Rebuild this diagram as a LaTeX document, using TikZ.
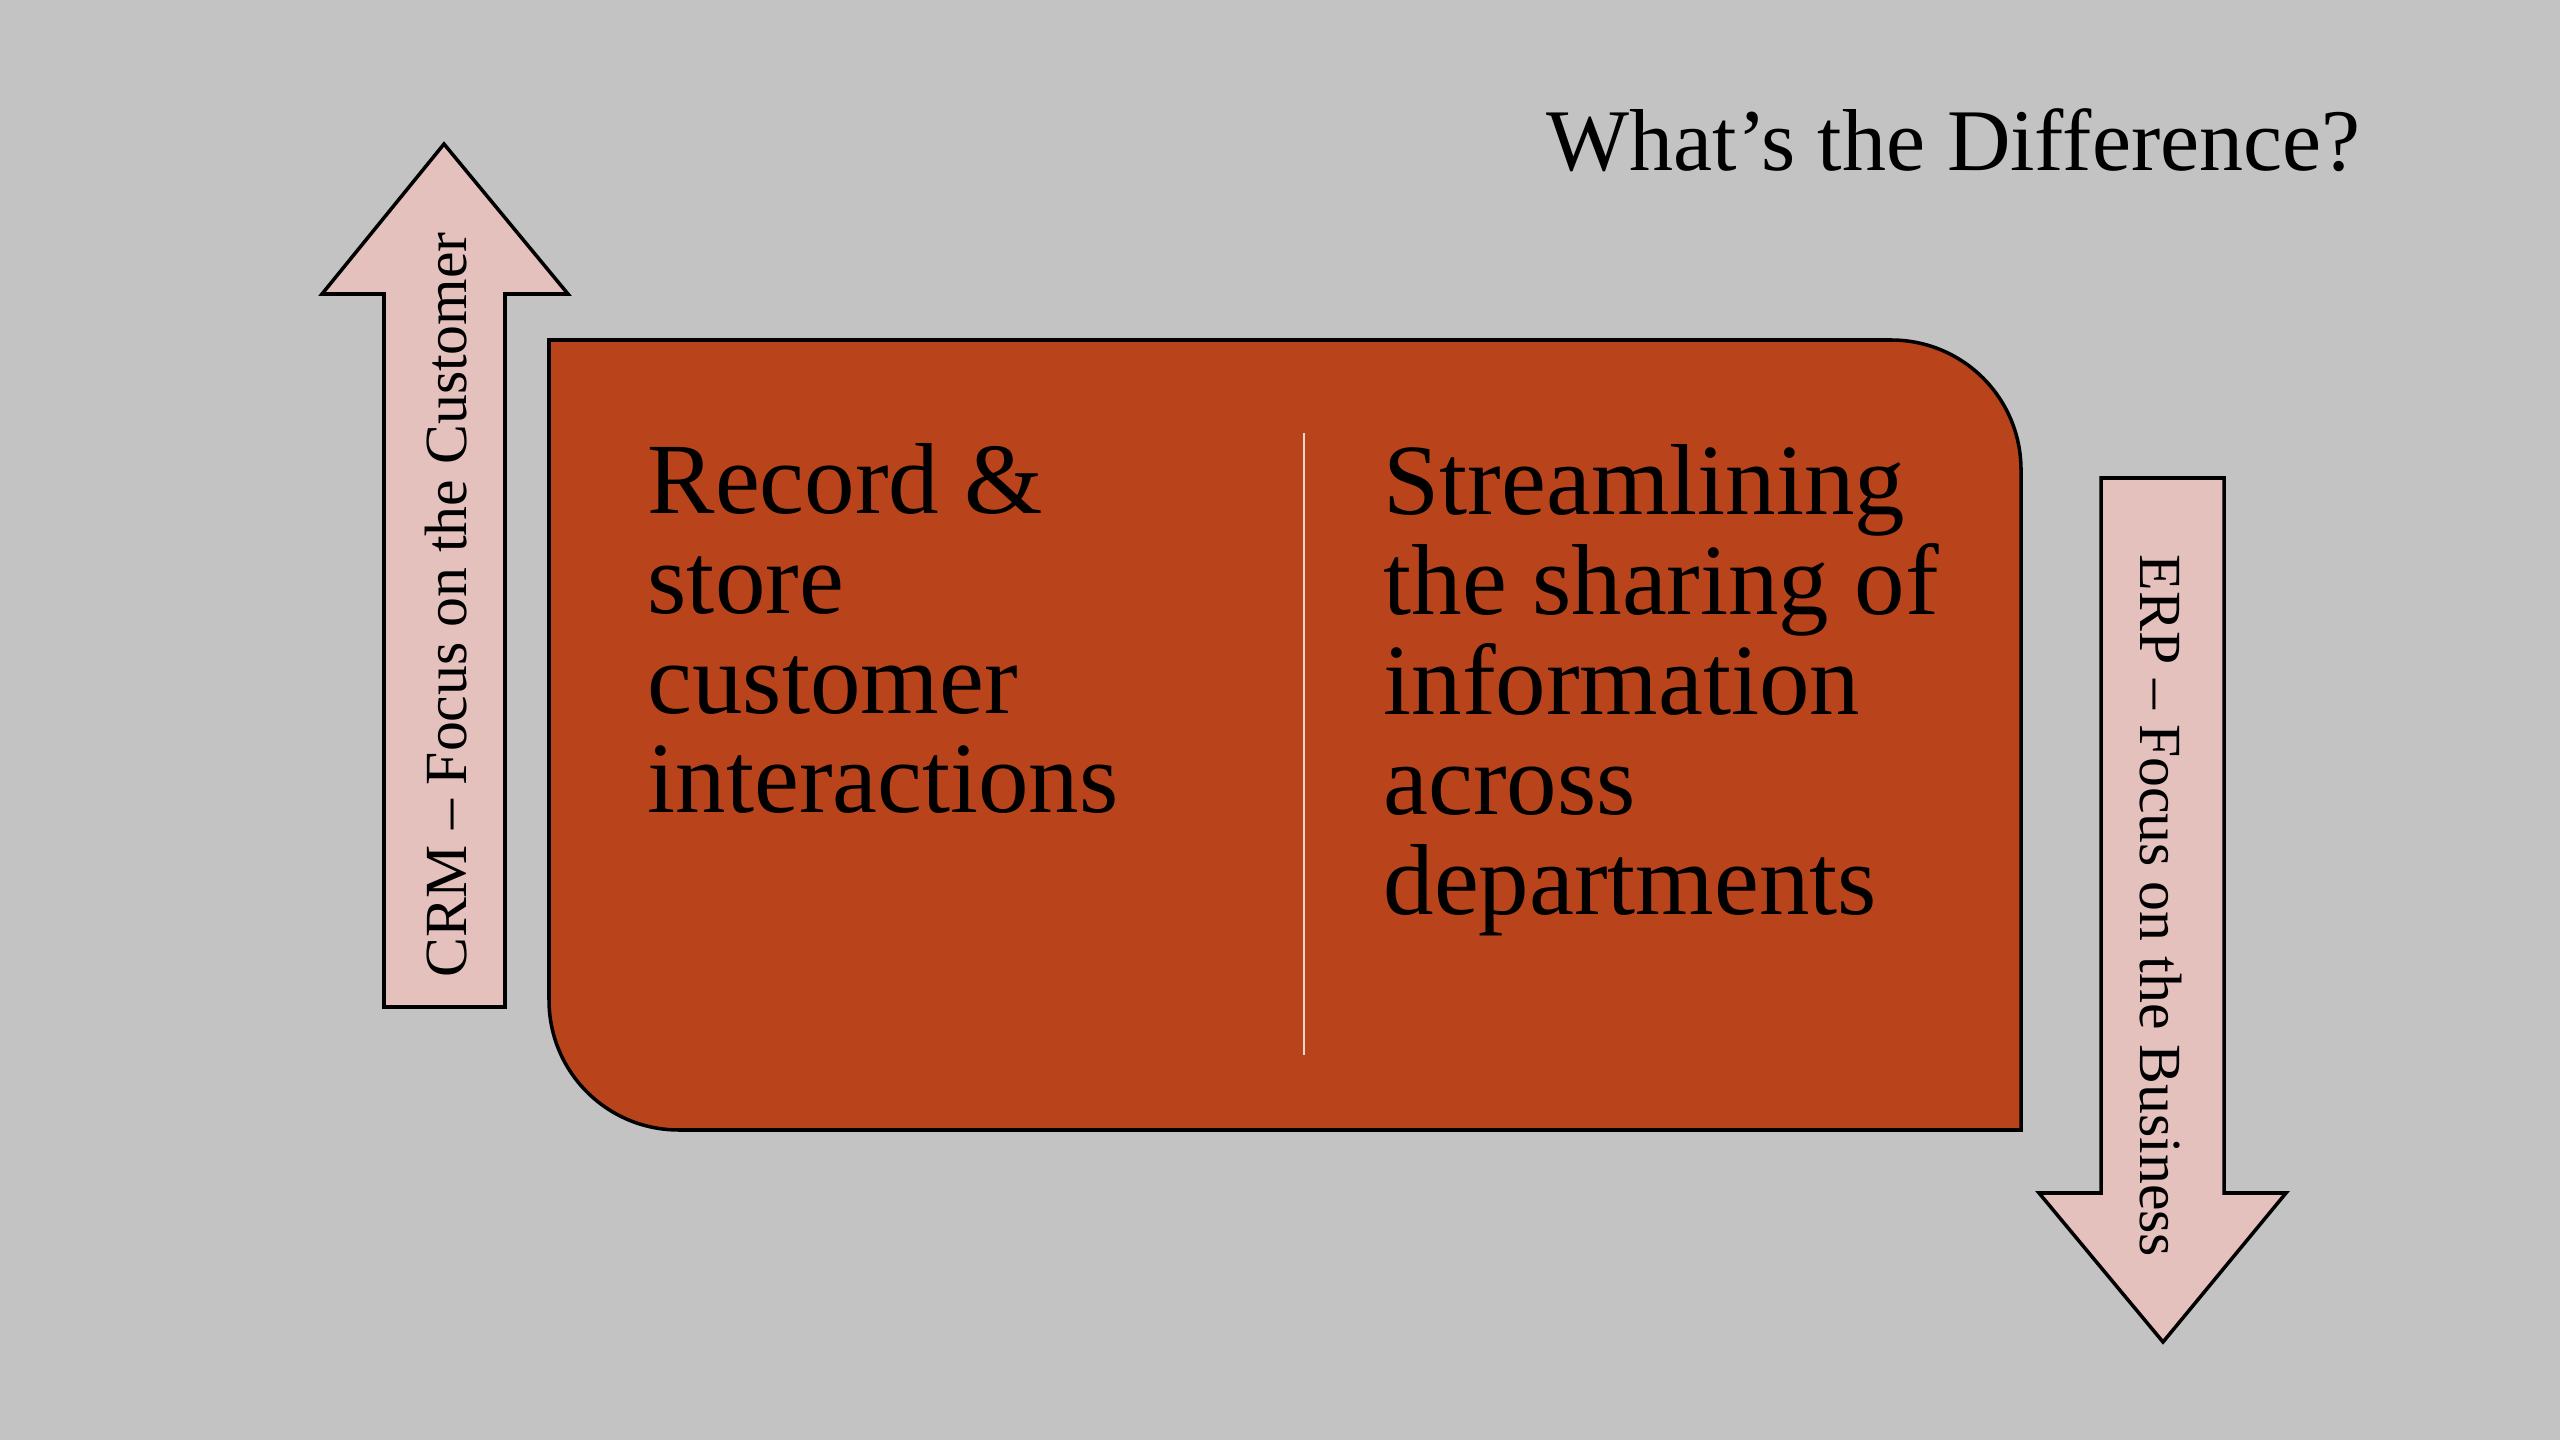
\documentclass[tikz,border=0pt]{standalone}
\usepackage{fontspec}
\setmainfont{Liberation Serif}
\usepackage{tikz}
\definecolor{bggray}{HTML}{C3C3C3}
\definecolor{rustbox}{HTML}{B9441C}
\definecolor{pinkarrow}{HTML}{E5C1BE}
\definecolor{divline}{HTML}{F0D5CC}
\begin{document}
\begin{tikzpicture}[x=0.01cm,y=-0.01cm]
		\fill[bggray] (0,0) rectangle (2560,1440);
		\useasboundingbox (0,0) rectangle (2560,1440);
		\draw[fill=pinkarrow,line width=1pt,line join=miter] (444,144) -- (568,294) -- (505,294) -- (505,1007) -- (384,1007) -- (384,294) -- (322,294) -- cycle;
		\draw[fill=pinkarrow,line width=1pt,line join=miter] (2163,1342) -- (2286,1193) -- (2224,1193) -- (2224,478) -- (2101,478) -- (2101,1193) -- (2039,1193) -- cycle;
		\draw[fill=rustbox,line width=1pt] (549,340) -- (1891,340) .. controls (1963,340) and (2021,398) .. (2021,470) -- (2021,1130) -- (679,1130) .. controls (607,1130) and (549,1072) .. (549,1000) -- cycle;
		\coordinate (divtop) at (1304,433);
		\coordinate (divbot) at (1304,1055);
		\draw[divline,line width=0.8pt] (divtop) -- (divbot);
		\node[anchor=base east,inner sep=0,font=\fontsize{25}{30}\selectfont] (title) at (2361,171) {What’s the Difference?};
		\node[anchor=base west,inner sep=0,align=left,font=\fontsize{28.7}{28.4}\selectfont] (crmtext) at (647,813) {Record \&\\store\\customer\\interactions};
		\node[anchor=base west,inner sep=0,align=left,font=\fontsize{28.7}{28.4}\selectfont] (erptext) at (1383,914) {Streamlining\\the sharing of\\information\\across\\departments};
		\node[rotate=90,inner sep=0,font=\fontsize{17}{20}\selectfont] (crmlabel) at (446,605) {CRM – Focus on the Customer};
		\node[rotate=-90,inner sep=0,font=\fontsize{17}{20}\selectfont] (erplabel) at (2161,906) {ERP – Focus on the Business};
	\end{tikzpicture}
\end{document}
